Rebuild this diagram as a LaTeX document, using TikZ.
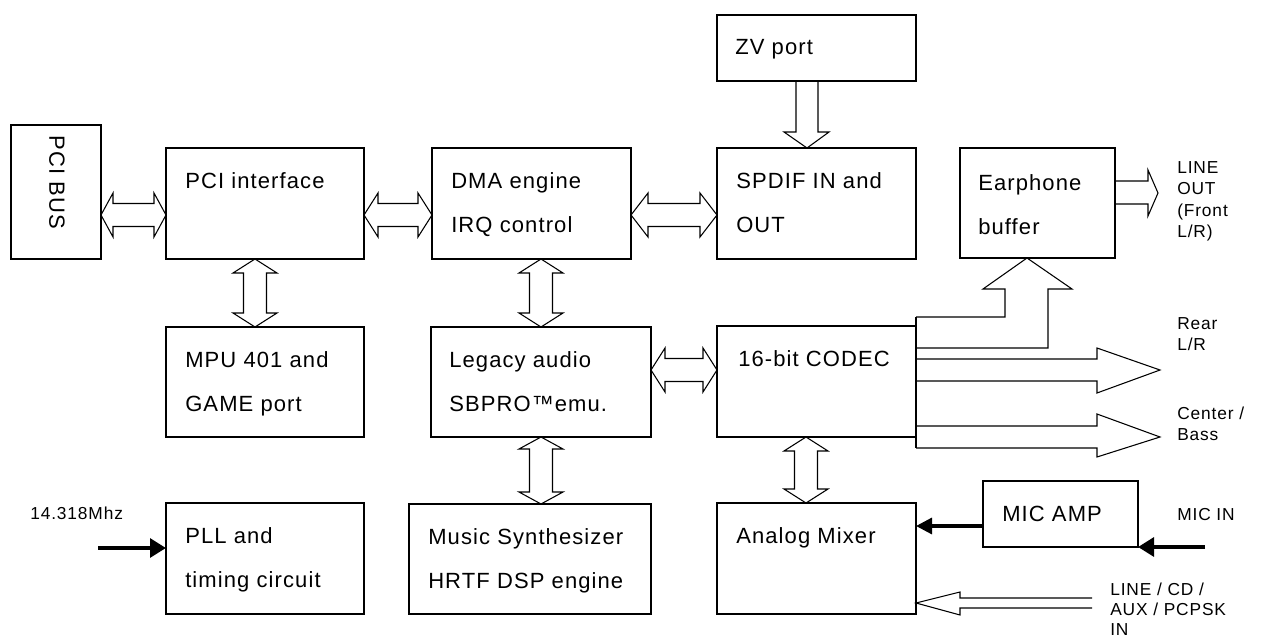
\documentclass[tikz,border=0pt]{standalone}
\usepackage{fontspec}
\setmainfont{Liberation Sans}[LetterSpace=5]
\usetikzlibrary{calc,arrows.meta}
\def\pxu{0.75pt}
\tikzset{
  x=0.75pt, y=-0.75pt,
  box/.style={draw, line width=1pt, outer sep=0pt, inner sep=0pt, anchor=north west},
  btxt/.style={anchor=base west, inner sep=0pt, font=\fontsize{16.5pt}{33pt}\selectfont},
  stxt/.style={anchor=base west, inner sep=0pt, font=\fontsize{13pt}{16.2pt}\selectfont},
  blk/.style={draw, line width=0.8pt, line join=miter},
  fat/.style={line width=3pt, -{Triangle[length=12pt,width=14pt]}},
  fatb/.style={line width=2.4pt, -{Triangle[length=12pt,width=12pt]}},
}
\newcommand\mybox[5]{\node[box, minimum width=#4*\pxu, minimum height=#5*\pxu] (#1) at (#2,#3) {};}
\newcommand\btext[4]{\node[btxt] (#1-t) at ($(#1.north west)+(#2,#3)$) {#4};}
\newcommand\hdarrow[4]{%
  \coordinate (A) at (#1.east |- 0,#3);
  \coordinate (B) at (#2.west |- 0,#3);
  \draw[blk] (A) -- ++(#4,-22) -- ++(0,10.5) -- ($(B)+(-#4,-11.5)$) -- ++(0,-10.5) -- (B)
    -- ++(-#4,22) -- ++(0,-10.5) -- ($(A)+(#4,11.5)$) -- ++(0,10.5) -- cycle;}
\newcommand\vdarrow[4]{%
  \coordinate (A) at (#1.south -| #3,0);
  \coordinate (B) at (#2.north -| #3,0);
  \draw[blk] (A) -- ++(-22,#4) -- ++(10.5,0) -- ($(B)+(-11.5,-#4)$) -- ++(-10.5,0) -- (B)
    -- ++(22,-#4) -- ++(-10.5,0) -- ($(A)+(11.5,#4)$) -- ++(10.5,0) -- cycle;}
\begin{document}
\begin{tikzpicture}
\useasboundingbox[fill=white] (0,0) rectangle (1261,639);
% boxes
\mybox{pcibus}{11}{125}{90}{134}
\mybox{pci}{166}{148}{198}{111}
\mybox{dma}{432}{148}{199}{111}
\mybox{spdif}{717}{148}{199}{111}
\mybox{zv}{717}{15}{199}{66}
\mybox{ear}{960}{148}{155}{110}
\mybox{mpu}{166}{327}{198}{110}
\mybox{legacy}{431}{327}{220}{110}
\mybox{codec}{717}{326}{199}{111}
\mybox{pll}{166}{503}{198}{111}
\mybox{music}{409}{504}{242}{110}
\mybox{mixer}{717}{503}{199}{111}
\mybox{micamp}{983}{481}{155}{66}
% box texts
\node[btxt, rotate=-90, anchor=west] (pcibus-t) at ($(pcibus.north)+(1,10)$) {PCI BUS};
\btext{pci}{19}{40}{PCI interface}
\btext{dma}{19}{40}{\vtop{\hbox{DMA engine}\hbox{IRQ control}}}
\btext{spdif}{19}{40}{\vtop{\hbox{SPDIF IN and}\hbox{OUT}}}
\btext{zv}{18}{39}{ZV port}
\btext{ear}{18}{42}{\vtop{\hbox{Earphone}\hbox{buffer}}}
\btext{mpu}{19}{40}{\vtop{\hbox{MPU 401 and}\hbox{GAME port}}}
\btext{legacy}{18}{40}{\vtop{\hbox{Legacy audio}\hbox{SBPRO™emu.}}}
\btext{codec}{21}{40}{16-bit CODEC}
\btext{pll}{19}{40}{\vtop{\hbox{PLL and}\hbox{timing circuit}}}
\btext{music}{19}{40}{\vtop{\hbox{Music Synthesizer}\hbox{HRTF DSP engine}}}
\btext{mixer}{19}{40}{Analog Mixer}
\btext{micamp}{19}{40}{MIC AMP}
% double block arrows
\hdarrow{pcibus}{pci}{215}{12}
\hdarrow{pci}{dma}{215}{14}
\hdarrow{dma}{spdif}{215}{17}
\hdarrow{legacy}{codec}{370}{14}
\vdarrow{pci}{mpu}{255}{14}
\vdarrow{dma}{legacy}{541}{14}
\vdarrow{legacy}{music}{541}{12}
\vdarrow{codec}{mixer}{806}{14}
% ZV -> SPDIF
\coordinate (zt) at (spdif.north -| 807,0);
\draw[blk] (zv.south -| 796,0) -- ($(zt)+(-11,-16)$) -- ($(zt)+(-23,-16)$) -- (zt)
  -- ($(zt)+(22,-16)$) -- ($(zt)+(11,-16)$) -- (zv.south -| 818,0);
% Earphone -> LINE OUT
\coordinate (lot) at (1158,193);
\draw[blk] (ear.east |- 0,181) -- ($(lot)+(-10,-12)$) -- ($(lot)+(-10,-23)$) -- (lot)
  -- ($(lot)+(-10,23)$) -- ($(lot)+(-10,11)$) -- (ear.east |- 0,204);
% CODEC output bus
\draw[blk] (codec.east |- 0,317) -- (codec.east |- 0,448);
% CODEC -> Earphone
\coordinate (et) at (ear.south -| 1027,0);
\draw[blk] (codec.east |- 0,317) -| ($(et)+(-22,31)$) -- ($(et)+(-44,31)$) -- (et)
  -- ($(et)+(45,31)$) -- ($(et)+(21,31)$) |- (codec.east |- 0,348);
% CODEC -> Rear
\coordinate (rt) at (1160,370);
\draw[blk] (codec.east |- 0,359) -- ($(rt)+(-63,-11)$) -- ($(rt)+(-63,-22)$) -- (rt)
  -- ($(rt)+(-63,23)$) -- ($(rt)+(-63,11)$) -- (codec.east |- 0,381);
% CODEC -> Center/Bass
\coordinate (ct) at (1160,437);
\draw[blk] (codec.east |- 0,426) -- ($(ct)+(-63,-11)$) -- ($(ct)+(-63,-23)$) -- (ct)
  -- ($(ct)+(-63,20)$) -- ($(ct)+(-63,11)$) -- (codec.east |- 0,448);
% LINE/CD -> mixer
\coordinate (lcdA) at (1092,598);
\coordinate (lcdB) at (1092,608);
\coordinate (mt) at (mixer.east |- 0,603);
\draw[blk] (lcdA) -- ($(mt)+(44,-5)$) -- ($(mt)+(44,-11)$) -- (mt)
  -- ($(mt)+(44,12)$) -- ($(mt)+(44,5)$) -- (lcdB);
% filled arrows
\coordinate (clk) at (98,548);
\draw[fat] (clk) -- (pll.west |- clk);
\draw[fatb] (micamp.west |- 0,526) -- (mixer.east |- 0,526);
\coordinate (micin) at (1205,547);
\draw[fat] (micin) -- (micamp.south east);
% small labels
\node[stxt] (clk-l) at (30,519) {14.318Mhz};
\node[stxt] (lo-l) at (1177,173) {\vtop{\hbox{LINE}\hbox{OUT}\hbox{(Front}\hbox{L/R)}}};
\node[stxt] (rear-l) at (1177,329) {\vtop{\hbox{Rear}\hbox{L/R}}};
\node[stxt] (cb-l) at (1177,419) {\vtop{\hbox{Center /}\hbox{Bass}}};
\node[stxt] (mic-l) at (1177,520) {MIC IN};
\node[stxt, font=\fontsize{13pt}{15.2pt}\selectfont] (lcd-l) at (1110,595) {\vtop{\hbox{LINE / CD /}\hbox{AUX / PCPSK}\hbox{IN}}};
\end{tikzpicture}
\end{document}
